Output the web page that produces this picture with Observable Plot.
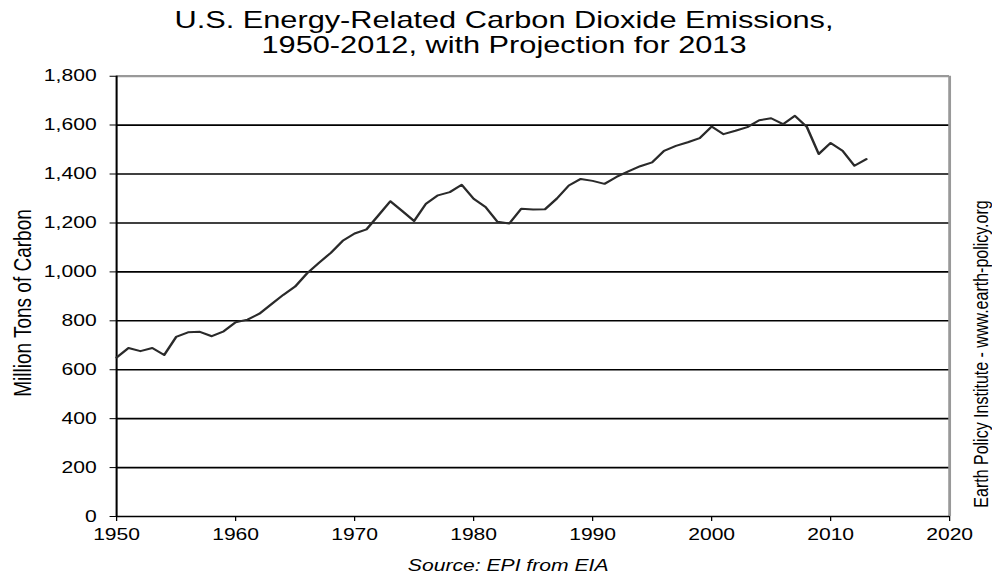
<!DOCTYPE html>
<html>
<head>
<meta charset="utf-8">
<script src="https://cdn.jsdelivr.net/npm/d3@7"></script>
<script src="https://cdn.jsdelivr.net/npm/@observablehq/plot@0.6"></script>
<style>
  html, body { margin: 0; padding: 0; background: #fff; overflow: hidden; }
  #wrap { position: relative; width: 780px; height: 576px; transform: scaleX(1.28); transform-origin: 0 0; font-family: "Liberation Sans", Arial, sans-serif; color: #000; }
  #title { position: absolute; left: 0; width: 787.5px; top: 7px; text-align: center; font-size: 24px; line-height: 25px; }
  #chart { position: absolute; left: 0; top: 60px; }
  .rot { position: absolute; white-space: nowrap; transform: translate(-50%, -50%) rotate(-90deg); }
  #ylab { left: 18px; top: 303px; font-size: 19px; }
  #credit { left: 767px; top: 354px; font-size: 16px; }
  #source { position: absolute; left: 0; width: 794px; top: 556px; text-align: center; font-size: 16.5px; font-style: italic; line-height: 18px; }
</style>
</head>
<body>
<div id="wrap">
  <div id="title">U.S. Energy-Related Carbon Dioxide Emissions,<br>1950-2012, with Projection for 2013</div>
  <div id="chart"></div>
  <div id="ylab" class="rot">Million Tons of Carbon</div>
  <div id="credit" class="rot">Earth Policy Institute - www.earth-policy.org</div>
  <div id="source">Source: EPI from EIA</div>
</div>
<script>
const years = d3.range(1950, 2014);
const emissions = [
  650, 689, 676, 689, 660, 734, 753, 755, 737, 757,
  794, 805, 829, 868, 906, 940, 994, 1037, 1078, 1127,
  1157, 1174, 1231, 1289, 1249, 1208, 1279, 1313, 1326, 1356,
  1299, 1265, 1205, 1198, 1258, 1255, 1256, 1300, 1353, 1380,
  1372, 1360, 1388, 1411, 1432, 1448, 1495, 1515, 1530, 1547,
  1594, 1563, 1577, 1592, 1620, 1628, 1604, 1638, 1593, 1482,
  1527, 1495, 1434, 1461
];
const xTicks = [1950, 1960, 1970, 1980, 1990, 2000, 2010, 2020];
const yTicks = [0, 200, 400, 600, 800, 1000, 1200, 1400, 1600, 1800];
const gridLines = [200, 400, 600, 800, 1000, 1200, 1400, 1600];

const data = years.map((y, i) => ({year: y, value: emissions[i]}));

const chart = Plot.plot({
  width: 780,
  height: 490,
  marginLeft: 90.6,
  marginRight: 38.6,
  marginTop: 15.7,
  marginBottom: 34,
  style: {fontFamily: "'Liberation Sans', Arial, sans-serif", fontSize: "16.5px", color: "#000", background: "transparent"},
  x: {domain: [1950, 2020], ticks: xTicks, tickFormat: d => String(d), tickSize: 5, tickPadding: 7, label: null},
  y: {domain: [0, 1800], ticks: yTicks, tickFormat: d3.format(","), tickSize: 5, tickPadding: 10.6, label: null},
  marks: [
    Plot.ruleY(gridLines, {stroke: "#000", strokeWidth: 1.6}),
    Plot.ruleY([1800], {stroke: "#999", strokeWidth: 2.2}),
    Plot.ruleX([2020], {stroke: "#999", strokeWidth: 2.2}),
    Plot.ruleX([1950], {stroke: "#000", strokeWidth: 1.6}),
    Plot.ruleY([0], {stroke: "#000", strokeWidth: 1.6}),
    Plot.line(data, {x: "year", y: "value", stroke: "#2a2a2a", strokeWidth: 2})
  ]
});
document.getElementById("chart").appendChild(chart);
</script>
</body>
</html>
